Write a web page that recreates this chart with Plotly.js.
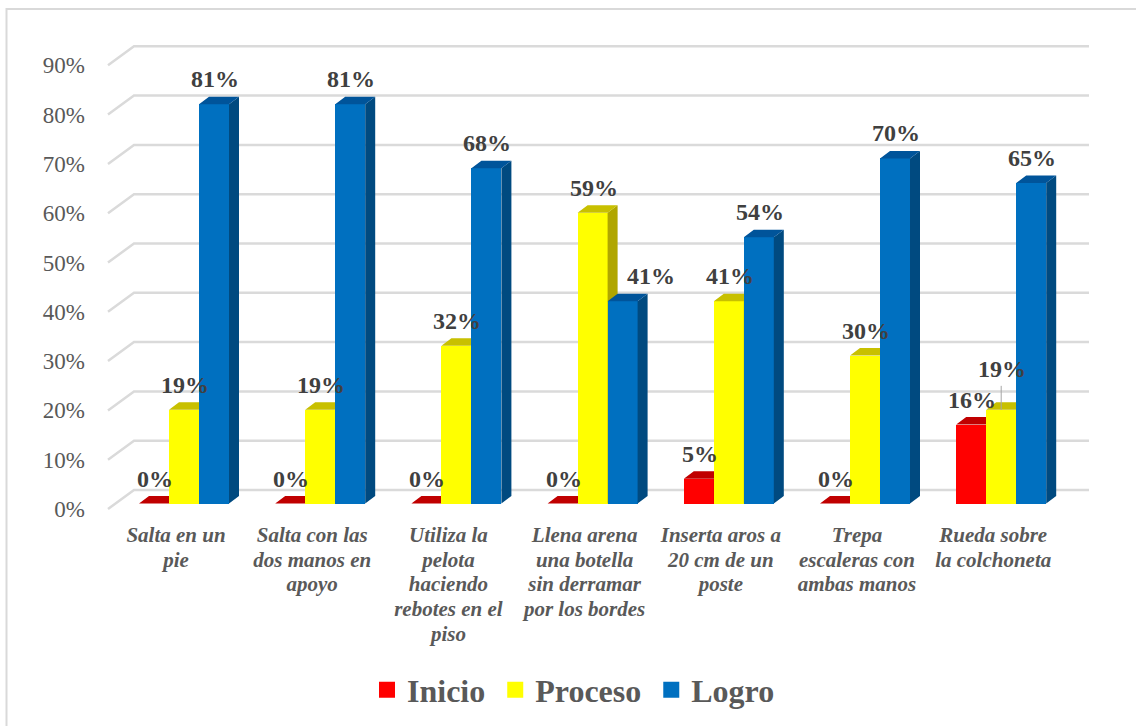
<!DOCTYPE html>
<html><head><meta charset="utf-8">
<script src="https://cdn.plot.ly/plotly-3.0.1.min.js"></script>
<style>html,body{margin:0;padding:0;background:#fff}</style></head>
<body><div id="chart" style="width:1136px;height:726px"></div>
<script>
var categoryLines = [
  ["Salta en un","pie"],
  ["Salta con las","dos manos en","apoyo"],
  ["Utiliza la","pelota","haciendo","rebotes en el","piso"],
  ["Llena arena","una botella","sin derramar","por los bordes"],
  ["Inserta aros a","20 cm de un","poste"],
  ["Trepa","escaleras con","ambas manos"],
  ["Rueda sobre","la colchoneta"]
];
var seriesNames = ["Inicio","Proceso","Logro"];
var inicio  = [0,0,0,0,5,0,16];
var proceso = [19,19,32,59,41,30,19];
var logro   = [81,81,68,41,54,70,65];
var frontColors = ["#FF0000","#FFFF00","#0070C0"];
var sideColors  = ["#BF0000","#B0A600","#004A80"];
var topColors   = ["#C00000","#C8C000","#00549A"];
var gridValues  = [0,10,20,30,40,50,60,70,80,90];

var W=1136,H=726, L=95,R=1100,T=30,B=515;
var pxPerGroup=136.2, pxPerPct=4.93, x0px=184, y0px=503.5;
var xRange=[(L-x0px)/pxPerGroup,(R-x0px)/pxPerGroup];
var yRange=[(y0px-B)/pxPerPct,(y0px-T)/pxPerPct];
var barW=30/pxPerGroup, depthX=10/pxPerGroup, depthY=7.5/pxPerPct;
var xv=function(px){return (px-x0px)/pxPerGroup;};
var yv=function(px){return (y0px-px)/pxPerPct;};
var idx=categoryLines.map(function(_,i){return i;});
var values=[inicio,proceso,logro];

// gridlines: slanted floor piece + back wall piece
var gFrontShift=yv(509), gBackShift=yv(490);
var gx=[],gy=[];
gridValues.forEach(function(v){
  gx.push(xv(108),xv(134),xv(1089),null);
  gy.push(v+gFrontShift,v+gBackShift,v+gBackShift,null);
});
var traces=[{type:'scatter',mode:'lines',x:gx,y:gy,showlegend:false,hoverinfo:'skip',
  line:{color:'#DADADA',width:2.5},xaxis:'x',yaxis:'y'}];

values.forEach(function(vals,s){
  var ax=s+2, xa='x'+ax, ya='y'+ax;
  var off=(s-1.5)*barW;
  traces.push({type:'bar',x:idx,y:vals,width:barW,offset:off,showlegend:false,
    marker:{color:frontColors[s],line:{width:0}},xaxis:xa,yaxis:ya,hoverinfo:'y'});
  var sx=[],sy=[],tx=[],ty=[];
  vals.forEach(function(v,i){
    var a=i+off,b=a+barW;
    sx.push(b,b+depthX,b+depthX,b,b,null);
    sy.push(0,depthY,v+depthY,v,0,null);
    tx.push(a,b,b+depthX,a+depthX,a,null);
    ty.push(v,v,v+depthY,v+depthY,v,null);
  });
  traces.push({type:'scatter',mode:'lines',x:sx,y:sy,fill:'toself',fillcolor:sideColors[s],
    line:{width:0,color:sideColors[s]},showlegend:false,hoverinfo:'skip',xaxis:xa,yaxis:ya});
  traces.push({type:'scatter',mode:'lines',x:tx,y:ty,fill:'toself',fillcolor:topColors[s],
    line:{width:0,color:topColors[s]},showlegend:false,hoverinfo:'skip',xaxis:xa,yaxis:ya});
});

// legend entries
seriesNames.forEach(function(n,s){
  traces.push({type:'scatter',mode:'markers',x:[null],y:[null],
    name:n+'<span style="font-size:20px">&nbsp;</span>',
    marker:{symbol:'square',size:16,color:frontColors[s]},xaxis:'x',yaxis:'y',hoverinfo:'skip'});
});

// leader line of the displaced label
var leaderGroup=6, leaderFrom=proceso[6], leaderTo=proceso[6]+24/pxPerPct;
traces.push({type:'scatter',mode:'lines',x:[leaderGroup,leaderGroup],y:[leaderFrom,leaderTo],
  line:{color:'#A6A6A6',width:1},showlegend:false,hoverinfo:'skip',xaxis:'x4',yaxis:'y4'});

// data labels
var labelShift={ '1,6':[0,-16], '2,3':[27,0] };
var annotations=[];
values.forEach(function(vals,s){
  vals.forEach(function(v,i){
    var sh=labelShift[s+','+i]||[0,0];
    annotations.push({x:i+(s-1)*barW,y:v,xref:'x',yref:'y',text:v+'%',showarrow:false,
      xanchor:'center',yanchor:'middle',xshift:sh[0]+1,yshift:25-sh[1],
      font:{family:'Liberation Serif',size:24,color:'#404040',weight:'bold'}});
  });
});

var catTicks=idx.map(function(i){return i-8/pxPerGroup;});
var catText=categoryLines.map(function(ls){
  return ls.map(function(l){return '<span style="font-size:21px">'+l+'</span>';}).join('<br>');
});
var hiddenX={overlaying:'x',matches:'x',visible:false};
var hiddenY={overlaying:'y',matches:'y',visible:false};
var layout={
  width:W,height:H,autosize:false,paper_bgcolor:'#fff',plot_bgcolor:'rgba(0,0,0,0)',
  margin:{l:L,r:W-R,t:T,b:H-B,pad:0},
  bargap:0,showlegend:true,
  font:{family:'Liberation Serif'},
  xaxis:{type:'linear',range:xRange,showgrid:false,zeroline:false,showline:false,
    tickmode:'array',tickvals:catTicks,ticktext:catText,ticks:'',ticklabelstandoff:7,
    tickangle:0,tickfont:{family:'Liberation Serif',size:19,color:'#595959',weight:'bold',style:'italic'}},
  yaxis:{type:'linear',range:yRange,showgrid:false,zeroline:false,showline:false,
    tickmode:'array',tickvals:gridValues.map(function(v){return v+gFrontShift;}),
    ticktext:gridValues.map(function(v){return v+'%';}),ticks:'',ticklabelstandoff:9,
    tickfont:{family:'Liberation Serif',size:23,color:'#595959'}},
  xaxis2:hiddenX,yaxis2:hiddenY,xaxis3:hiddenX,yaxis3:hiddenY,xaxis4:hiddenX,yaxis4:hiddenY,
  legend:{orientation:'h',x:367/W,xref:'container',xanchor:'left',y:1-690/H,yref:'container',yanchor:'middle',
    font:{family:'Liberation Serif',size:32,color:'#595959',weight:'bold'},itemclick:false,itemdoubleclick:false},
  shapes:[{type:'rect',xref:'paper',yref:'paper',x0:(6.5-L)/(R-L),x1:(1145-L)/(R-L),
    y0:(B-735)/(B-T),y1:(B-9)/(B-T),line:{color:'#D9D9D9',width:2},layer:'below'}],
  annotations:annotations
};
Plotly.newPlot('chart',traces,layout,{staticPlot:true,displayModeBar:false});
</script></body></html>
